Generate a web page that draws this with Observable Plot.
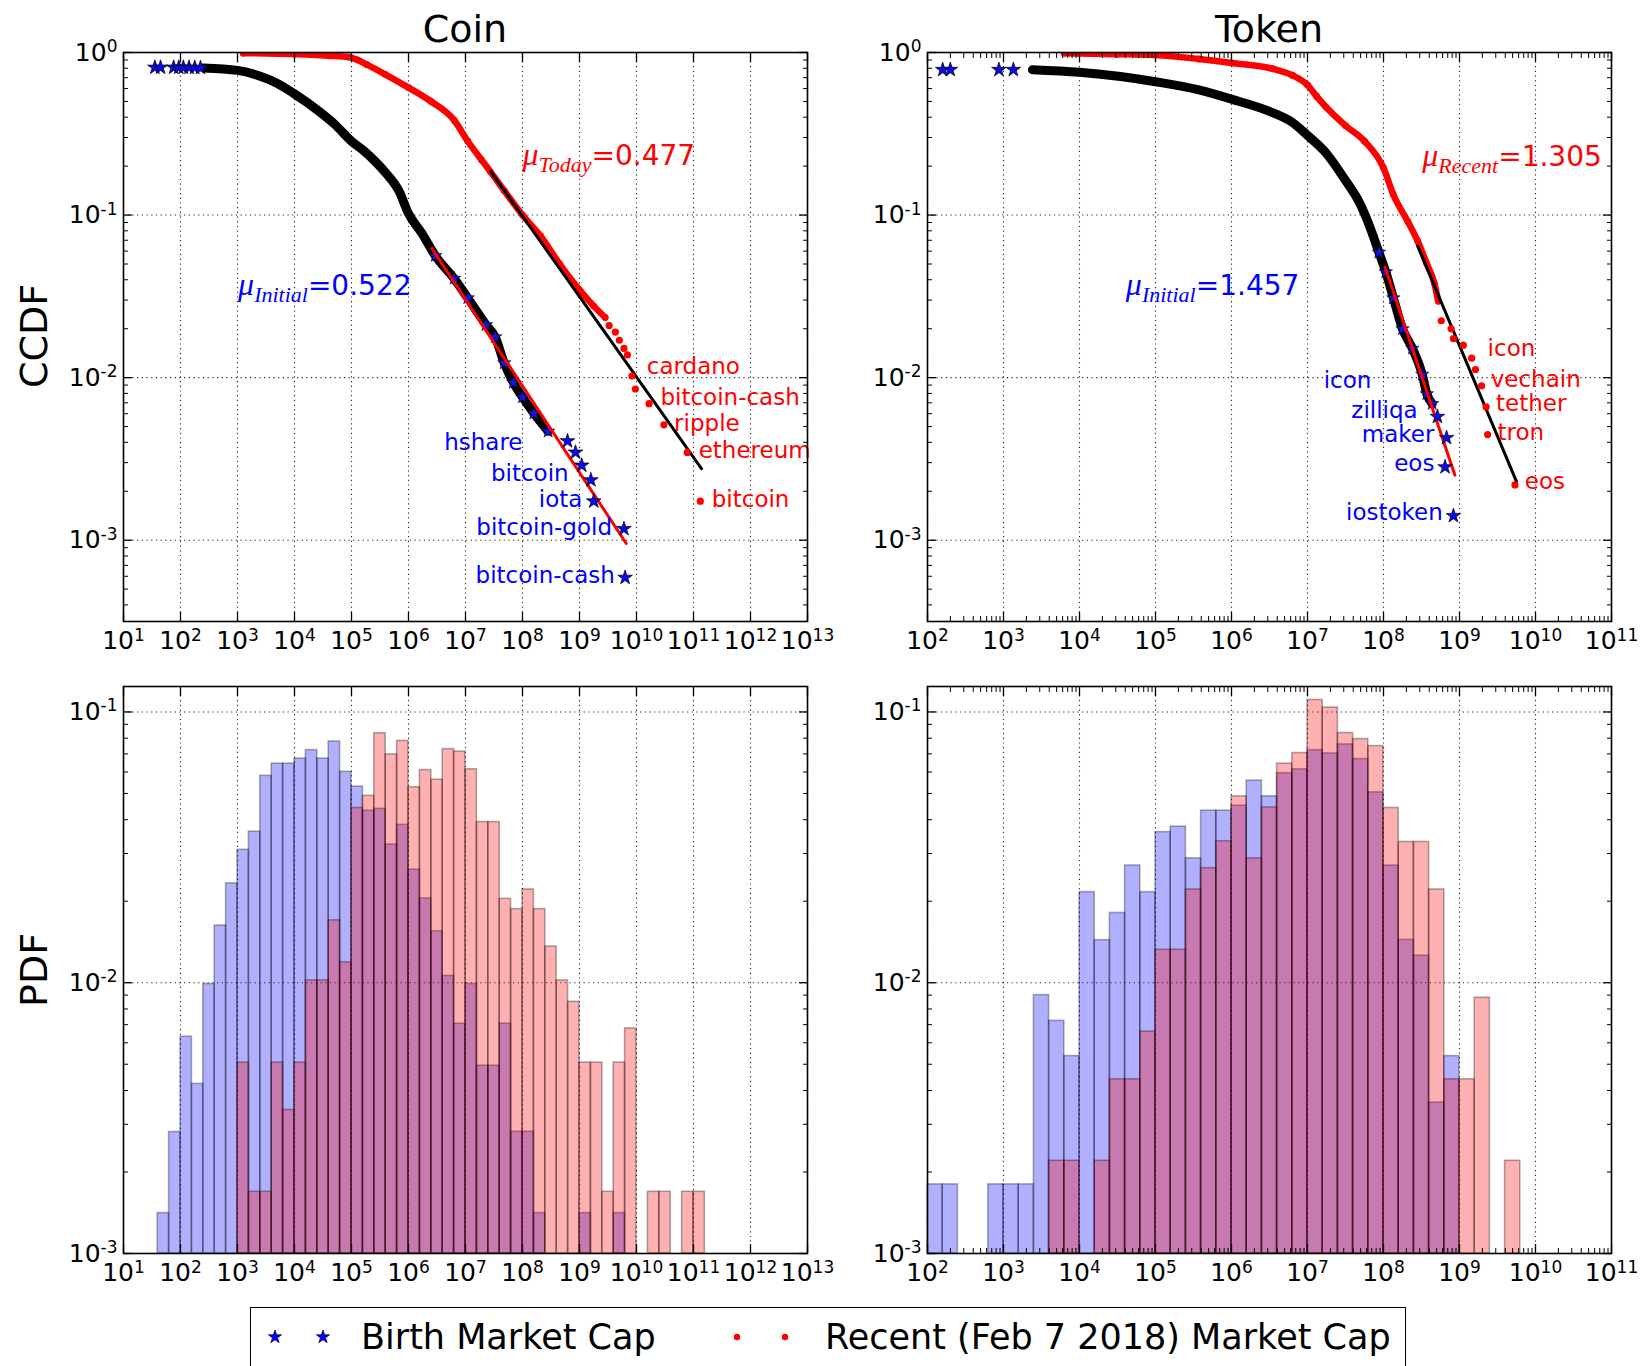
<!DOCTYPE html>
<html>
<head>
<meta charset="utf-8">
<script src="https://cdn.jsdelivr.net/npm/d3@7"></script>
<script src="https://cdn.jsdelivr.net/npm/@observablehq/plot@0.6"></script>
<style>
  body { margin: 0; background: #fff; }
  #root { position: relative; width: 1645px; height: 1366px; font-family: "DejaVu Sans", sans-serif; color: #000; overflow: hidden; }
  .panel { position: absolute; }
  .title { position: absolute; font-size: 38px; transform: translateX(-50%); white-space: nowrap; line-height: 1; }
  .ylab { position: absolute; font-size: 38px; transform: translate(-50%, -50%) rotate(-90deg); white-space: nowrap; line-height: 1; }
  #legend { position: absolute; left: 250px; top: 1307px; width: 1156px; height: 62px; border: 1.5px solid #000; box-sizing: border-box; background: #fff; }
  .legtext { position: absolute; font-size: 35px; top: 8px; white-space: nowrap; line-height: 1.2; }
</style>
</head>
<body>
<div id="root"></div>
<script>
// ---------------- DATA ----------------
// CCDF curves: [log10(market cap), log10(CCDF)]
const coinBirthSparse = [[1.55,-0.092],[1.65,-0.092],[1.88,-0.092],[1.97,-0.092],[2.05,-0.092],[2.15,-0.092],[2.25,-0.093],[2.35,-0.094]];
const coinBirthCurve = [[2.4,-0.095],[3.0,-0.11],[3.4,-0.146],[3.7,-0.19],[3.98,-0.25],[4.46,-0.37],[4.7,-0.44],[5.0,-0.546],[5.2,-0.6],[5.43,-0.675],[5.6,-0.74],[5.83,-0.85],[6.0,-0.99],[6.23,-1.11],[6.47,-1.25],[6.8,-1.39],[7.04,-1.51],[7.36,-1.675],[7.52,-1.75],[7.68,-1.91],[7.84,-2.03],[8.0,-2.12],[8.2,-2.22],[8.45,-2.33]];
const coinBirthTail = [[8.79,-2.39],[8.93,-2.46],[9.04,-2.54],[9.20,-2.63],[9.25,-2.76],[9.78,-2.93],[9.80,-3.23]];
const coinRecentCurve = [[3.1,-0.004],[4.0,-0.01],[4.6,-0.02],[4.95,-0.028],[5.1,-0.045],[5.27,-0.075],[5.59,-0.134],[6.0,-0.216],[6.39,-0.3],[6.8,-0.416],[7.04,-0.546],[7.28,-0.66],[7.44,-0.734],[7.68,-0.85],[8.0,-1.0],[8.32,-1.13],[8.65,-1.3],[9.0,-1.46],[9.25,-1.56],[9.45,-1.63]];
const coinRecentTail = [[9.52,-1.68],[9.63,-1.72],[9.70,-1.77],[9.78,-1.82],[9.84,-1.86],[9.92,-1.99],[9.98,-2.07],[10.22,-2.16],[10.48,-2.29],[10.89,-2.46],[11.12,-2.76]];
const coinBirthFit = [[6.41,-1.205],[9.82,-3.02]];
const coinRecentFit = [[7.44,-0.73],[11.14,-2.56]];

const tokenBirthSparse = [[2.2,-0.106],[2.3,-0.106],[2.94,-0.106],[3.13,-0.106]];
const tokenBirthCurve = [[3.38,-0.106],[4.0,-0.122],[5.0,-0.18],[5.57,-0.23],[6.0,-0.287],[6.54,-0.37],[6.8,-0.43],[7.0,-0.51],[7.24,-0.616],[7.49,-0.78],[7.68,-0.92],[7.81,-1.06],[7.94,-1.23],[8.03,-1.35],[8.13,-1.51],[8.25,-1.70],[8.38,-1.82],[8.51,-1.98],[8.57,-2.10],[8.64,-2.16]];
const tokenBirthTail = [[8.71,-2.24],[8.83,-2.37],[8.81,-2.55],[8.92,-2.85]];
const tokenRecentCurve = [[3.8,-0.004],[4.5,-0.01],[5.0,-0.016],[5.57,-0.04],[6.0,-0.064],[6.54,-0.1],[6.8,-0.14],[7.0,-0.2],[7.12,-0.27],[7.24,-0.334],[7.5,-0.45],[7.75,-0.546],[8.0,-0.71],[8.13,-0.875],[8.32,-1.04],[8.45,-1.16],[8.57,-1.30],[8.67,-1.42],[8.72,-1.53]];
const tokenRecentTail = [[8.76,-1.65],[8.89,-1.70],[8.92,-1.76],[9.05,-1.80],[9.16,-1.88],[9.21,-1.95],[9.29,-2.05],[9.35,-2.18],[9.37,-2.35],[9.73,-2.66]];
const tokenBirthFit = [[8.02,-1.32],[8.94,-2.60]];
const tokenRecentFit = [[8.45,-1.19],[9.75,-2.64]];

// annotation labels: [text, log10 x, log10 y]
const coinBirthLabels = [["hshare",8.0,-2.40],["bitcoin",8.81,-2.59],["iota",9.05,-2.75],["bitcoin-gold",9.57,-2.92],["bitcoin-cash",9.62,-3.22]];
const coinRecentLabels = [["cardano",10.18,-1.93],["bitcoin-cash",10.42,-2.12],["ripple",10.66,-2.28],["ethereum",11.09,-2.45],["bitcoin",11.32,-2.75]];
const tokenBirthLabels = [["icon",7.84,-2.02],["zilliqa",8.45,-2.20],["maker",8.67,-2.35],["eos",8.67,-2.53],["iostoken",8.78,-2.83]];
const tokenRecentLabels = [["icon",9.37,-1.82],["vechain",9.41,-2.01],["tether",9.48,-2.16],["tron",9.50,-2.34],["eos",9.86,-2.64]];
// exponent labels: [symbol subscript, value text, log10 x, log10 y, colour]
const coinMu = [["Today","=0.477",8.0,-0.64,"red"],["Initial","=0.522",3.01,-1.44,"blue"]];
const tokenMu = [["Recent","=1.305",8.51,-0.65,"red"],["Initial","=1.457",4.61,-1.44,"blue"]];

// PDF histograms: bins of 0.2 decade, first bin start (log10) and densities
const binWidth = 0.2;
const coinBirthStart = 1.6;
const coinBirthPdf = [0.00141,0.00281,0.00632,0.00423,0.00989,0.01626,0.02328,0.03097,0.03614,0.05808,0.06442,0.06442,0.0673,0.07228,0.0673,0.0778,0.0601,0.053,0.0432,0.0439,0.0324,0.0383,0.0262,0.0205,0.0155,0.0106,0.00706,0.00989,0.00494,0.00494,0.00706,0.00282,0.00282,0.00141,0,0,0,0.00141,0,0,0.00141];
const coinRecentStart = 3.0;
const coinRecentPdf = [0.00507,0.00169,0.00169,0.00507,0.00339,0.00507,0.0102,0.0102,0.0170,0.0119,0.0442,0.049,0.0834,0.0697,0.0782,0.0527,0.061,0.0562,0.0729,0.0714,0.0614,0.0392,0.0392,0.0204,0.0187,0.0221,0.0187,0.0136,0.0102,0.0085,0.00507,0.00507,0.00169,0.00507,0.00678,0,0.00169,0.00169,0,0.00169,0.00169];
const tokenBirthStart = 2.0;
const tokenBirthPdf = [0.0018,0.0018,0,0,0.0018,0.0018,0.0018,0.0090,0.00723,0.00536,0.0216,0.01436,0.0181,0.0271,0.0216,0.036,0.0377,0.0288,0.0432,0.0432,0.0451,0.0558,0.0488,0.0594,0.0614,0.0723,0.0703,0.0759,0.067,0.0505,0.0271,0.0144,0.0126,0.00361,0.00536];
const tokenRecentStart = 3.6;
const tokenRecentPdf = [0.0022,0.0022,0,0.0022,0.0044,0.0044,0.0066,0.01324,0.01324,0.0221,0.0265,0.0333,0.0488,0.0288,0.0444,0.0644,0.0705,0.1107,0.1038,0.0836,0.0794,0.0748,0.0442,0.0331,0.0331,0.0221,0.0044,0.0044,0.0088,0,0.0022];

// axis tick exponents
const coinXExp = [1,2,3,4,5,6,7,8,9,10,11,12,13];
const tokenXExp = [2,3,4,5,6,7,8,9,10,11];
const ccdfYExp = [-3,-2,-1,0];
const pdfYExp = [-3,-2,-1];

// ---------------- DRAWING ----------------
const p10 = v => Math.pow(10, v);
const X = d => p10(d[0]);
const Y = d => p10(d[1]);
const fmt = d => "10^" + Math.round(Math.log10(d));
const blank = () => "";
const gridStyle = {stroke: "#000", strokeOpacity: 0.85, strokeWidth: 1.1, strokeDasharray: "1.2,3.5"};
const baseStyle = {fontFamily: "DejaVu Sans", fontSize: "25px", color: "#000", background: "transparent", overflow: "visible"};

function minor(lo, hi) {
  const out = [];
  for (let e = Math.floor(lo); e < hi; e++) for (let m = 2; m <= 9; m++) {
    const v = m * p10(e);
    if (v > p10(lo) && v < p10(hi)) out.push(v);
  }
  return out;
}

function axes(xExp, yExp, yLo, yHi, xMinor) {
  const xs = xExp.map(p10), ys = yExp.map(p10);
  const ym = minor(yLo, yHi);
  const marks = [
    Plot.axisX({ticks: xs, anchor: "bottom", tickSize: -9, tickPadding: 19, tickFormat: fmt, label: null, strokeWidth: 1.3}),
    Plot.axisX({ticks: xs, anchor: "top", tickSize: -9, tickFormat: blank, label: null, strokeWidth: 1.3}),
    Plot.axisY({ticks: ys, anchor: "left", tickSize: -9, tickPadding: 15, tickFormat: fmt, label: null, strokeWidth: 1.3}),
    Plot.axisY({ticks: ys, anchor: "right", tickSize: -9, tickFormat: blank, label: null, strokeWidth: 1.3}),
    Plot.axisY({ticks: ym, anchor: "left", tickSize: -5, tickFormat: blank, label: null}),
    Plot.axisY({ticks: ym, anchor: "right", tickSize: -5, tickFormat: blank, label: null})
  ];
  if (xMinor) {
    const xm = minor(xExp[0], xExp[xExp.length - 1]);
    marks.push(Plot.axisX({ticks: xm, anchor: "bottom", tickSize: -5, tickFormat: blank, label: null}));
    marks.push(Plot.axisX({ticks: xm, anchor: "top", tickSize: -5, tickFormat: blank, label: null}));
  }
  return marks;
}

function ccdfPanel(c) {
  return Plot.plot({
    width: c.width, height: c.height,
    marginLeft: c.ml, marginRight: c.mr, marginTop: 52, marginBottom: c.height - 621,
    x: {type: "log", domain: [p10(c.xExp[0]), p10(c.xExp[c.xExp.length - 1])]},
    y: {type: "log", domain: [p10(-3.5), 1]},
    style: baseStyle,
    marks: [
      Plot.gridX(c.xExp.map(p10), gridStyle),
      Plot.gridY(ccdfYExp.map(p10), gridStyle),
      Plot.line(c.recentCurve, {x: X, y: Y, curve: "monotone-x", stroke: "#ff0000", strokeWidth: 6.5, strokeLinejoin: "round", strokeLinecap: "round", clip: true}),
      Plot.dot(c.recentCurve, {x: X, y: Y, r: 3.4, fill: "#ff0000", clip: true}),
      Plot.line(c.birthCurve, {x: X, y: Y, curve: "monotone-x", stroke: "#000", strokeWidth: 9, strokeLinejoin: "round", strokeLinecap: "round", clip: true}),
      Plot.dot(c.birthCurve.filter(d => d[0] > c.starFrom), {x: X, y: Y, symbol: "star", r: 4.2, fill: "#1414e6", stroke: "#000", strokeWidth: 0.6, clip: true}),
      Plot.line(c.birthFit, {x: X, y: Y, stroke: "#ff0000", strokeWidth: 3}),
      Plot.line(c.recentFit, {x: X, y: Y, stroke: "#000", strokeWidth: 3}),
      Plot.dot(c.recentTail, {x: X, y: Y, r: 3.6, fill: "#ff0000", clip: true}),
      Plot.dot(c.birthSparse.concat(c.birthTail), {x: X, y: Y, symbol: "star", r: 4.6, fill: "#0a0ae6", stroke: "#000", strokeWidth: 0.7, clip: true}),
      Plot.text(c.birthLabels, {x: d => p10(d[1]), y: d => p10(d[2]), text: d => d[0], fill: "#0000ff", fontSize: 23, textAnchor: "end"}),
      Plot.text(c.recentLabels, {x: d => p10(d[1]), y: d => p10(d[2]), text: d => d[0], fill: "#ff0000", fontSize: 23, textAnchor: "start"}),
      Plot.text(c.mu, {x: d => p10(d[2]), y: d => p10(d[3]), text: d => "μ|" + d[0] + "|" + d[1], fill: d => d[4] === "red" ? "#ff0000" : "#0000ff", textAnchor: "start"}),
      ...axes(c.xExp, ccdfYExp, -3.5, 0, c.xMinor),
      Plot.frame({stroke: "#000", strokeWidth: 1.6})
    ]
  });
}

function bins(start, vals) {
  return vals.map((v, i) => ({x1: p10(start + i * binWidth), x2: p10(start + (i + 1) * binWidth), y: v})).filter(d => d.y > 0);
}

function pdfPanel(c) {
  const top = 686 - c.top, bottom = c.top + c.height - 1253;
  return Plot.plot({
    width: c.width, height: c.height,
    marginLeft: c.ml, marginRight: c.mr, marginTop: top, marginBottom: bottom,
    x: {type: "log", domain: [p10(c.xExp[0]), p10(c.xExp[c.xExp.length - 1])]},
    y: {type: "log", domain: [1e-3, p10(-0.906)]},
    style: baseStyle,
    marks: [
      Plot.gridX(c.xExp.map(p10), gridStyle),
      Plot.gridY(pdfYExp.map(p10), gridStyle),
      Plot.rect(bins(c.birthStart, c.birthPdf), {x1: "x1", x2: "x2", y1: 1e-3, y2: "y", fill: "#0000ff", fillOpacity: 0.31, stroke: "#000", strokeOpacity: 0.32, strokeWidth: 1.6}),
      Plot.rect(bins(c.recentStart, c.recentPdf), {x1: "x1", x2: "x2", y1: 1e-3, y2: "y", fill: "#ff0000", fillOpacity: 0.31, stroke: "#000", strokeOpacity: 0.32, strokeWidth: 1.6}),
      ...axes(c.xExp, pdfYExp, -3, -0.906, c.xMinor),
      Plot.frame({stroke: "#000", strokeWidth: 1.6})
    ]
  });
}

function postProcess(svg) {
  d3.select(svg).selectAll("text").each(function() {
    const t = this.textContent;
    const sel = d3.select(this);
    let m = /^10\^(-?\d+)$/.exec(t);
    if (m) {
      sel.text("10");
      sel.append("tspan").attr("dy", "-0.5em").attr("font-size", "0.68em").text(m[1]);
      return;
    }
    if (t.startsWith("μ|")) {
      const parts = t.split("|");
      sel.text(null);
      sel.append("tspan").attr("font-family", "'Liberation Serif', 'DejaVu Serif', serif").attr("font-style", "italic").attr("font-size", 32).text("μ");
      sel.append("tspan").attr("font-family", "'Liberation Serif', 'DejaVu Serif', serif").attr("font-style", "italic").attr("font-size", 22).attr("dy", 7).text(parts[1]);
      sel.append("tspan").attr("font-family", "'DejaVu Sans', sans-serif").attr("font-size", 28).attr("dy", -7).text(parts[2]);
    }
  });
  return svg;
}

const root = document.getElementById("root");
function place(svg, left, top) {
  const div = document.createElement("div");
  div.className = "panel";
  div.style.left = left + "px";
  div.style.top = top + "px";
  div.appendChild(postProcess(svg));
  root.appendChild(div);
}

place(ccdfPanel({
  width: 820, height: 670, ml: 123, mr: 13, xExp: coinXExp, xMinor: false, starFrom: 6.3,
  birthSparse: coinBirthSparse, birthCurve: coinBirthCurve, birthTail: coinBirthTail,
  recentCurve: coinRecentCurve, recentTail: coinRecentTail, birthFit: coinBirthFit, recentFit: coinRecentFit,
  birthLabels: coinBirthLabels, recentLabels: coinRecentLabels, mu: coinMu
}), 0, 0);

place(ccdfPanel({
  width: 825, height: 670, ml: 107, mr: 34, xExp: tokenXExp, xMinor: true, starFrom: 7.9,
  birthSparse: tokenBirthSparse, birthCurve: tokenBirthCurve, birthTail: tokenBirthTail,
  recentCurve: tokenRecentCurve, recentTail: tokenRecentTail, birthFit: tokenBirthFit, recentFit: tokenRecentFit,
  birthLabels: tokenBirthLabels, recentLabels: tokenRecentLabels, mu: tokenMu
}), 820, 0);

place(pdfPanel({
  width: 820, height: 630, top: 670, ml: 123, mr: 13, xExp: coinXExp, xMinor: false,
  birthStart: coinBirthStart, birthPdf: coinBirthPdf, recentStart: coinRecentStart, recentPdf: coinRecentPdf
}), 0, 670);

place(pdfPanel({
  width: 825, height: 630, top: 670, ml: 107, mr: 34, xExp: tokenXExp, xMinor: true,
  birthStart: tokenBirthStart, birthPdf: tokenBirthPdf, recentStart: tokenRecentStart, recentPdf: tokenRecentPdf
}), 820, 670);

// titles and axis labels
function addDiv(cls, text, css) {
  const d = document.createElement("div");
  d.className = cls;
  d.textContent = text;
  Object.assign(d.style, css);
  root.appendChild(d);
}
addDiv("title", "Coin", {left: "465px", top: "10px"});
addDiv("title", "Token", {left: "1269px", top: "10px"});
addDiv("ylab", "CCDF", {left: "34px", top: "336px"});
addDiv("ylab", "PDF", {left: "34px", top: "970px"});

// legend
const legend = document.createElement("div");
legend.id = "legend";
root.appendChild(legend);
const ls = d3.select(legend).append("svg").attr("width", 1156).attr("height", 62)
  .style("position", "absolute").style("left", "-1.5px").style("top", "-1.5px");
const starPath = d3.symbol().type(d3.symbolStar).size(55)();
[25, 73].forEach(x => ls.append("path").attr("d", starPath).attr("transform", `translate(${x},30)`).attr("fill", "#0000ff").attr("stroke", "#000").attr("stroke-width", 0.7));
[487, 535].forEach(x => ls.append("circle").attr("cx", x).attr("cy", 30).attr("r", 3.2).attr("fill", "#ff0000"));
const t1 = document.createElement("div"); t1.className = "legtext"; t1.style.left = "110px"; t1.textContent = "Birth Market Cap"; legend.appendChild(t1);
const t2 = document.createElement("div"); t2.className = "legtext"; t2.style.left = "574px"; t2.textContent = "Recent (Feb 7 2018) Market Cap"; legend.appendChild(t2);
</script>
</body>
</html>
